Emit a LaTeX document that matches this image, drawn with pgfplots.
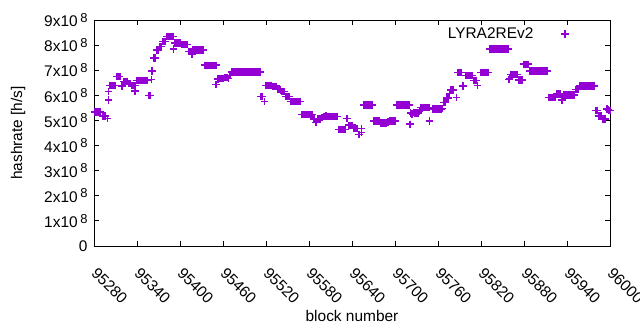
\documentclass[border=0pt]{standalone}
\usepackage{fontspec}
\setmainfont{Liberation Sans}
\usepackage{pgfplots}
\pgfplotsset{compat=1.18}
\definecolor{gpviolet}{RGB}{148,0,211}
\newcommand{\sx}[1]{#1x10\,\raisebox{0.55ex}{\fontsize{13}{13}\selectfont 8}}
\pgfplotsset{widelegend/.style={legend image code/.code={\path (0bp,-3bp) (43bp,3bp); \draw[mark repeat=2,mark phase=2,##1] plot coordinates {(0bp,0bp)(29bp,0bp)(43bp,0bp)};}}}
\begin{document}
\begin{tikzpicture}
\begin{axis}[
  at={(0,0)}, anchor=south west,
  scale only axis, width=516bp, height=226bp,
  xmin=95280, xmax=96000, ymin=0, ymax=9e8,
  clip=false,
  font=\fontsize{15.5}{18}\selectfont,
  axis line style={black, line width=0.8bp},
  xtick={95280,95340,95400,95460,95520,95580,95640,95700,95760,95820,95880,95940,96000},
  ytick={0,1e8,2e8,3e8,4e8,5e8,6e8,7e8,8e8,9e8},
  yticklabels={0,\sx{1},\sx{2},\sx{3},\sx{4},\sx{5},\sx{6},\sx{7},\sx{8},\sx{9}},
  scaled y ticks=false, scaled x ticks=false,
  tick align=inside, major tick length=5bp,
  tick style={black, line width=0.8bp},
  xticklabel style={rotate=-45, anchor=north west, xshift=14bp, yshift=-8bp,
    /pgf/number format/1000 sep={}, /pgf/number format/assume math mode=true},
  yticklabel style={xshift=-3bp},
  xlabel={block number}, ylabel={hashrate [h/s]},
  xlabel style={at={(axis description cs:0.5,-0.31)}, anchor=center},
  ylabel style={at={(axis description cs:-0.147,0.5)}, anchor=center},
  legend style={draw=none, fill=none, at={(axis description cs:1,1)}, anchor=north east,
    xshift=-27bp, yshift=-3.5bp,
    legend cell align=right, font=\fontsize{15.5}{18}\selectfont},
  legend plot pos=right,
]
\addplot[only marks, mark=+, color=gpviolet, mark size=3.7bp, line width=1.45bp, widelegend] table {
95281 5.33e8
95283 5.33e8
95285 5.33e8
95287 5.33e8
95289 5.33e8
95292 5.18e8
95294 5.18e8
95296 5.18e8
95299 5.07e8
95300 5.82e8
95300 6.15e8
95302 6.40e8
95304 6.40e8
95306 6.40e8
95308 6.40e8
95310 6.40e8
95312 6.76e8
95314 6.76e8
95316 6.76e8
95319 6.37e8
95322 6.56e8
95324 6.56e8
95326 6.56e8
95328 6.48e8
95330 6.48e8
95332 6.40e8
95334 6.40e8
95336 6.40e8
95338 6.40e8
95337 6.18e8
95340 6.60e8
95342 6.60e8
95344 6.60e8
95346 6.60e8
95348 6.60e8
95350 6.60e8
95352 6.60e8
95354 6.60e8
95356 5.99e8
95358 5.99e8
95360 6.64e8
95361 6.97e8
95362 6.97e8
95364 7.48e8
95366 7.48e8
95368 7.80e8
95370 7.80e8
95372 7.94e8
95374 7.94e8
95376 8.15e8
95378 8.15e8
95380 8.15e8
95382 8.35e8
95384 8.35e8
95386 8.35e8
95388 8.35e8
95390 8.35e8
95391 7.84e8
95392 8.08e8
95394 8.08e8
95396 8.08e8
95398 8.08e8
95400 8.08e8
95402 8.03e8
95404 8.03e8
95406 8.03e8
95408 8.03e8
95410 8.03e8
95412 7.74e8
95414 7.74e8
95416 7.74e8
95417 7.65e8
95418 7.80e8
95420 7.80e8
95422 7.80e8
95424 7.80e8
95426 7.80e8
95428 7.80e8
95430 7.80e8
95432 7.80e8
95434 7.20e8
95436 7.20e8
95438 7.20e8
95440 7.20e8
95442 7.20e8
95444 7.20e8
95446 7.20e8
95448 7.20e8
95450 7.20e8
95450 6.44e8
95452 6.65e8
95454 6.65e8
95456 6.66e8
95458 6.68e8
95460 6.68e8
95462 6.70e8
95464 6.70e8
95466 6.72e8
95468 6.68e8
95470 6.80e8
95472 6.93e8
95474 6.93e8
95476 6.93e8
95478 6.93e8
95480 6.93e8
95482 6.93e8
95484 6.93e8
95486 6.93e8
95488 6.93e8
95490 6.93e8
95492 6.93e8
95494 6.93e8
95496 6.93e8
95498 6.93e8
95500 6.93e8
95502 6.93e8
95504 6.93e8
95506 6.93e8
95508 6.93e8
95510 6.93e8
95512 6.93e8
95513 5.95e8
95515 5.95e8
95518 5.75e8
95520 6.40e8
95522 6.40e8
95524 6.40e8
95526 6.40e8
95528 6.40e8
95530 6.35e8
95532 6.35e8
95534 6.35e8
95536 6.25e8
95538 6.25e8
95540 6.22e8
95542 6.15e8
95544 6.15e8
95546 6.15e8
95548 5.96e8
95550 5.96e8
95552 5.96e8
95554 5.76e8
95556 5.76e8
95558 5.76e8
95560 5.76e8
95562 5.76e8
95564 5.76e8
95566 5.76e8
95568 5.76e8
95570 5.23e8
95572 5.23e8
95574 5.23e8
95576 5.23e8
95578 5.23e8
95580 5.23e8
95582 5.23e8
95584 5.23e8
95586 5.05e8
95588 5.05e8
95590 4.92e8
95592 5.05e8
95594 5.05e8
95596 5.05e8
95598 5.12e8
95600 5.15e8
95602 5.15e8
95604 5.18e8
95606 5.15e8
95608 5.15e8
95610 5.15e8
95612 5.15e8
95614 5.15e8
95616 5.15e8
95618 5.15e8
95620 5.15e8
95622 4.65e8
95624 4.65e8
95626 4.65e8
95628 4.65e8
95630 4.65e8
95632 5.07e8
95634 5.07e8
95636 4.81e8
95638 4.81e8
95640 4.81e8
95642 4.69e8
95644 4.69e8
95646 4.69e8
95648 4.69e8
95650 4.45e8
95653 4.69e8
95653 4.52e8
95656 5.61e8
95658 5.61e8
95660 5.61e8
95662 5.61e8
95664 5.61e8
95666 5.61e8
95668 5.61e8
95670 4.98e8
95672 4.98e8
95674 4.98e8
95676 4.98e8
95678 4.98e8
95680 4.90e8
95682 4.90e8
95684 4.90e8
95686 4.90e8
95688 4.90e8
95690 4.94e8
95692 4.98e8
95694 4.98e8
95696 4.98e8
95698 4.98e8
95700 4.98e8
95702 5.61e8
95704 5.61e8
95706 5.61e8
95708 5.61e8
95710 5.61e8
95712 5.61e8
95714 5.61e8
95716 5.61e8
95718 5.61e8
95720 5.61e8
95721 4.85e8
95722 5.29e8
95724 5.25e8
95726 5.32e8
95728 5.29e8
95730 5.29e8
95732 5.29e8
95734 5.35e8
95736 5.52e8
95738 5.52e8
95740 5.52e8
95742 5.52e8
95744 5.52e8
95746 5.52e8
95748 5.52e8
95748 4.98e8
95752 5.45e8
95754 5.45e8
95756 5.45e8
95758 5.45e8
95760 5.45e8
95762 5.45e8
95764 5.45e8
95766 5.47e8
95768 5.71e8
95770 5.71e8
95772 5.90e8
95774 5.90e8
95776 6.08e8
95778 6.22e8
95780 6.22e8
95782 6.22e8
95786 5.92e8
95788 6.90e8
95790 6.90e8
95792 6.90e8
95795 6.37e8
95798 6.78e8
95800 6.78e8
95802 6.78e8
95804 6.78e8
95806 6.78e8
95808 6.78e8
95810 6.60e8
95812 6.60e8
95814 6.60e8
95815 6.40e8
95820 6.92e8
95822 6.92e8
95824 6.92e8
95826 6.92e8
95828 6.92e8
95830 6.92e8
95832 7.84e8
95834 7.84e8
95836 7.84e8
95838 7.84e8
95840 7.84e8
95842 7.84e8
95844 7.84e8
95846 7.84e8
95848 7.84e8
95850 7.84e8
95852 7.84e8
95854 7.84e8
95856 7.84e8
95858 7.84e8
95859 6.64e8
95860 6.68e8
95862 6.83e8
95864 6.83e8
95866 6.83e8
95868 6.83e8
95870 6.83e8
95872 6.61e8
95874 6.61e8
95876 6.61e8
95878 6.61e8
95880 7.24e8
95882 7.24e8
95884 7.24e8
95886 7.24e8
95888 6.97e8
95890 6.97e8
95892 6.97e8
95894 6.97e8
95896 6.97e8
95898 6.97e8
95900 6.97e8
95902 6.97e8
95904 6.97e8
95906 6.97e8
95908 6.97e8
95910 6.97e8
95912 6.97e8
95914 5.92e8
95916 5.92e8
95918 5.92e8
95920 5.92e8
95922 5.92e8
95924 5.92e8
95926 6.06e8
95928 6.06e8
95930 6.06e8
95932 5.82e8
95934 5.82e8
95936 6.02e8
95938 6.02e8
95940 6.02e8
95942 6.02e8
95944 6.02e8
95946 6.02e8
95948 6.02e8
95950 6.02e8
95952 6.24e8
95954 6.24e8
95956 6.24e8
95958 6.37e8
95960 6.37e8
95962 6.37e8
95964 6.37e8
95966 6.37e8
95968 6.37e8
95970 6.37e8
95972 6.37e8
95974 6.37e8
95976 6.37e8
95978 6.37e8
95980 5.40e8
95982 5.40e8
95984 5.18e8
95986 5.18e8
95988 5.18e8
95990 5.05e8
95992 5.05e8
95994 5.05e8
95996 5.45e8
95998 5.42e8
96000 5.40e8
};
\addlegendentry{LYRA2REv2}
\end{axis}
\pgfresetboundingbox
\path[use as bounding box] (-94bp,-84bp) rectangle (546bp,246bp);
\end{tikzpicture}
\end{document}
